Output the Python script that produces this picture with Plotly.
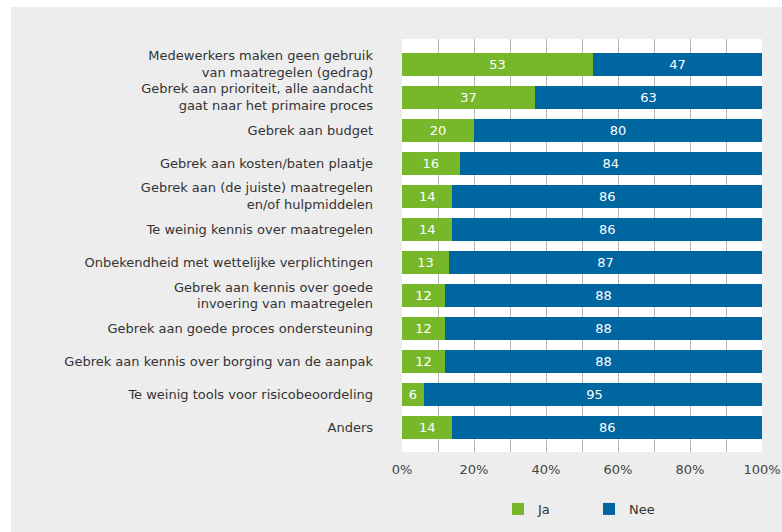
import plotly.graph_objects as go

categories = [
    "Medewerkers maken geen gebruik<br>van maatregelen (gedrag)",
    "Gebrek aan prioriteit, alle aandacht<br>gaat naar het primaire proces",
    "Gebrek aan budget",
    "Gebrek aan kosten/baten plaatje",
    "Gebrek aan (de juiste) maatregelen<br>en/of hulpmiddelen",
    "Te weinig kennis over maatregelen",
    "Onbekendheid met wettelijke verplichtingen",
    "Gebrek aan kennis over goede<br>invoering van maatregelen",
    "Gebrek aan goede proces ondersteuning",
    "Gebrek aan kennis over borging van de aanpak",
    "Te weinig tools voor risicobeoordeling",
    "Anders",
]
ja = [53, 37, 20, 16, 14, 14, 13, 12, 12, 12, 6, 14]
nee = [47, 63, 80, 84, 86, 86, 87, 88, 88, 88, 95, 86]
x_ticks = [0, 20, 40, 60, 80, 100]
grid_vals = [10, 20, 30, 40, 50, 60, 70, 80, 90]

GREEN = "#77b82a"
BLUE = "#0066a1"
FONT = "DejaVu Sans"

fig = go.Figure()
for name, vals, col in (("Ja", ja, GREEN), ("Nee", nee, BLUE)):
    fig.add_trace(go.Bar(
        y=categories, x=vals, name=name, orientation="h",
        marker=dict(color=col, line=dict(width=0)),
        text=[str(v) for v in vals], textposition="inside", insidetextanchor="middle",
        textangle=0, textfont=dict(color="white", size=13, family=FONT), constraintext="none",
    ))

W, H = 782, 532
L, R, T, B = 402, 20, 39, 80
pw, ph = W - L - R, H - T - B

def px_x(x):
    return (x - L) / pw

def px_y(y):
    return 1 - (y - T) / ph

fig.update_layout(
    width=W, height=H,
    barmode="stack", bargap=0.3,
    paper_bgcolor="#ededed", plot_bgcolor="white",
    margin=dict(l=L, r=R, t=T, b=B, pad=0, autoexpand=False),
    font=dict(family=FONT, size=13, color="#333333"),
    legend=dict(
        orientation="h", x=px_x(498), xanchor="left", y=px_y(509), yanchor="middle",
        font=dict(size=13, color="#333333"), bgcolor="rgba(0,0,0,0)",
        entrywidth=46, traceorder="normal",
    ),
    xaxis=dict(
        range=[0, 100], tickvals=x_ticks, ticktext=[f"{v}%" for v in x_ticks],
        showgrid=False, zeroline=False, showline=False, automargin=False,
        tickfont=dict(size=13, color="#444444"), ticks="", ticklabelstandoff=8,
        minor=dict(tickvals=grid_vals, showgrid=True, gridcolor="#b5b5b5", gridwidth=1, ticks=""),
        fixedrange=True,
    ),
    yaxis=dict(
        type="category", categoryorder="array", categoryarray=categories,
        range=[11.74, -0.76], showgrid=False, zeroline=False, showline=False, automargin=False,
        ticks="", ticklabelstandoff=28, tickfont=dict(size=13, color="#333333"),
        fixedrange=True,
    ),
    shapes=[
        dict(type="rect", xref="paper", yref="paper", x0=px_x(0), x1=px_x(W), y0=px_y(0), y1=px_y(7),
             fillcolor="white", line=dict(width=0), layer="below"),
        dict(type="rect", xref="paper", yref="paper", x0=px_x(0), x1=px_x(11), y0=px_y(H), y1=px_y(0),
             fillcolor="white", line=dict(width=0), layer="below"),
    ],
)

fig.write_html("out.html", config={"displayModeBar": False},
               post_script="document.body.style.margin='0';")
